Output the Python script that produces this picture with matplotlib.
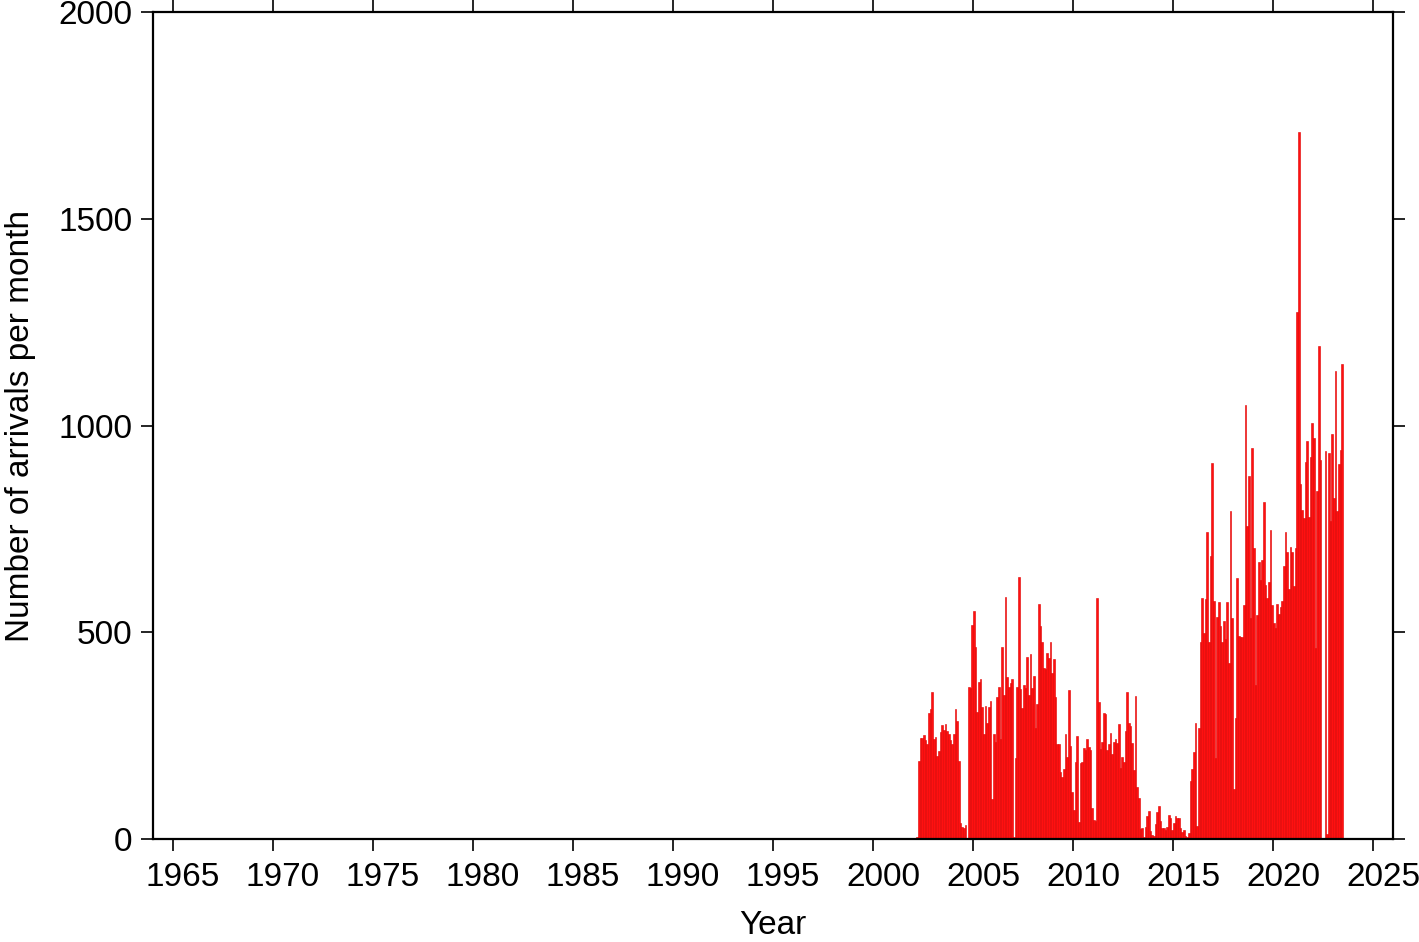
import numpy as np
import matplotlib
matplotlib.use("Agg")
import matplotlib.pyplot as plt
import matplotlib.transforms as mtransforms

# monthly arrival counts, Jan 2002 .. Jun 2023
counts_2002 = [0, 0, 5, 189, 245, 245, 251, 240, 230, 305, 314, 355]
counts_2003 = [242, 247, 200, 213, 259, 276, 264, 278, 262, 255, 240, 230]
counts_2004 = [255, 315, 285, 189, 38, 30, 27, 33, 0, 367, 365, 517]
counts_2005 = [551, 464, 307, 380, 387, 320, 254, 322, 280, 320, 333, 97]
counts_2006 = [254, 235, 343, 367, 242, 464, 348, 585, 392, 367, 377, 387]
counts_2007 = [5, 196, 367, 634, 362, 317, 372, 365, 440, 348, 447, 365]
counts_2008 = [394, 268, 326, 568, 515, 476, 414, 411, 450, 438, 476, 401]
counts_2009 = [435, 343, 230, 230, 162, 150, 169, 254, 198, 360, 225, 114]
counts_2010 = [70, 186, 249, 41, 184, 186, 220, 215, 242, 222, 215, 75]
counts_2011 = [46, 44, 583, 331, 218, 235, 305, 302, 216, 229, 256, 206]
counts_2012 = [235, 242, 233, 278, 172, 198, 186, 261, 355, 280, 273, 232]
counts_2013 = [167, 346, 125, 100, 24, 27, 5, 29, 55, 68, 19, 10]
counts_2014 = [7, 36, 65, 80, 44, 27, 27, 22, 29, 58, 51, 22]
counts_2015 = [39, 56, 51, 51, 27, 17, 22, 7, 5, 15, 140, 169]
counts_2016 = [210, 280, 31, 268, 476, 583, 498, 580, 742, 476, 684, 909]
counts_2017 = [576, 196, 537, 573, 515, 476, 527, 484, 573, 426, 793, 534]
counts_2018 = [121, 293, 631, 491, 488, 488, 566, 1050, 757, 878, 534, 946]
counts_2019 = [704, 372, 542, 670, 626, 675, 815, 614, 583, 622, 747, 566]
counts_2020 = [522, 510, 568, 544, 561, 576, 660, 742, 694, 604, 706, 694]
counts_2021 = [612, 704, 1275, 1710, 858, 796, 776, 911, 962, 779, 924, 1006]
counts_2022 = [970, 462, 842, 1193, 917, 0, 0, 938, 12, 934, 768, 979]
counts_2023 = [825, 1131, 793, 907, 941, 1148]

counts = (counts_2002 + counts_2003 + counts_2004 + counts_2005 + counts_2006
          + counts_2007 + counts_2008 + counts_2009 + counts_2010 + counts_2011
          + counts_2012 + counts_2013 + counts_2014 + counts_2015 + counts_2016
          + counts_2017 + counts_2018 + counts_2019 + counts_2020 + counts_2021
          + counts_2022 + counts_2023)
months = 2002 + np.arange(len(counts)) / 12.0

x_ticks = list(range(1965, 2030, 5))
y_ticks = [0, 500, 1000, 1500, 2000]

plt.rcParams["font.family"] = ["Liberation Sans", "DejaVu Sans"]
plt.rcParams["font.size"] = 24

fig = plt.figure(figsize=(14.19, 9.42), dpi=100)
ax = fig.add_axes([0.1078, 0.1093, 0.8739, 0.878])

ax.bar(months, counts, width=1 / 12.0, align="edge", color="#ff1010",
       edgecolor="#e00000", linewidth=0.4)

ax.set_xlim(1964, 2026)
ax.set_ylim(0, 2000)
ax.set_xticks(x_ticks)
ax.set_yticks(y_ticks)
ax.tick_params(direction="out", length=8.6, width=1.2, top=True, right=True,
               labelsize=24)
ax.tick_params(axis="x", pad=8)
ax.tick_params(axis="y", pad=6)
for s in ax.spines.values():
    s.set_linewidth(1.6)

# x tick labels sit a little right of their ticks in the original
shift = mtransforms.ScaledTranslation(0.10, 0, fig.dpi_scale_trans)
for lbl in ax.get_xticklabels():
    lbl.set_transform(lbl.get_transform() + shift)

ax.set_xlabel("Year", labelpad=12)
ax.set_ylabel("Number of arrivals per month", labelpad=16)

fig.savefig("out.png", dpi=100)
